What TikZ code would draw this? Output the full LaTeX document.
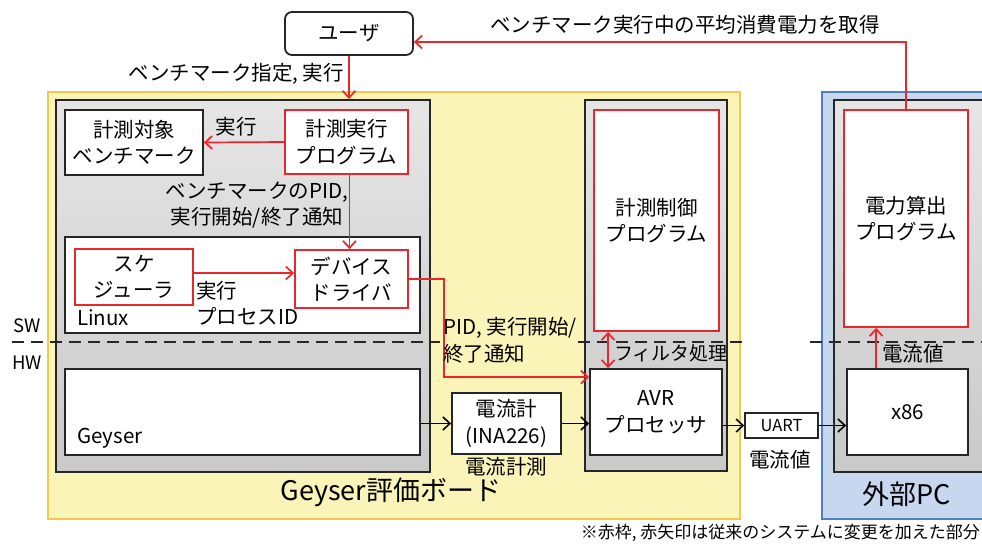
\documentclass[tikz,border=0pt]{standalone}
\usepackage{fontspec}
\setmainfont{Noto Sans CJK JP}
\usetikzlibrary{fit,arrows.meta,calc}
\definecolor{boardfill}{HTML}{FBF4B8}
\definecolor{boarddraw}{HTML}{F2C84E}
\definecolor{pcfill}{HTML}{C6D7EF}
\definecolor{pcdraw}{HTML}{4F80C1}
\definecolor{redline}{HTML}{E8262B}
\tikzset{
  every node/.style={font=\fontsize{20.5}{26.5}\selectfont},
  area/.style={line width=2pt, inner sep=0pt},
  chip/.style={draw=black!85, line width=2pt, top color=gray!20, bottom color=gray!42, inner sep=0pt},
  wbox/.style={draw=black!85, line width=1.8pt, fill=white, inner sep=0pt, align=center},
  rbox/.style={draw=redline, line width=1.8pt, fill=white, inner sep=0pt, align=center},
  barb/.tip={Straight Barb[length=7pt,width=13pt]},
  rarrow/.style={draw=redline, line width=1.7pt, -{barb}},
  rdouble/.style={draw=redline, line width=1.7pt, {barb}-{barb}},
  barrow/.style={draw=black, line width=1.6pt, -{barb}},
  swline/.style={draw=black!85, line width=1.8pt, dash pattern=on 12pt off 7pt},
  lbl/.style={inner sep=0pt},
}
\begin{document}
\begin{tikzpicture}[x=1pt,y=-1pt]
\clip (0,0) rectangle (982,547);
\fill[white] (0,0) rectangle (982,547);

% large areas
\node[area, draw=boarddraw, fill=boardfill, fit={(48,92) (740,519)}] (board) {};
\node[area, draw=pcdraw, fill=pcfill, fit={(822,92) (992,519)}] (pc) {};

% chips
\node[chip, fit={(56,100) (430,472)}] (chipL) {};
\node[chip, fit={(585,100) (727,471)}] (chipM) {};
\node[chip, fit={(834,100) (994,472)}] (chipR) {};

% user
\node[draw=black!85, line width=1.8pt, fill=white, rounded corners=7pt, inner sep=0pt,
      fit={(285,12) (413,55)}] (user) {};
\node[lbl] at (user.center) {ユーザ};

% inner boxes, left chip
\node[wbox, fit={(65,110) (203,175)}] (target) {};
\node[lbl, align=center] at (target.center) {計測対象\\ベンチマーク};
\node[rbox, fit={(285,110) (408,174)}] (exec) {};
\node[lbl, align=center] at (exec.center) {計測実行\\プログラム};

\node[wbox, fit={(65,237) (420,333)}] (linux) {};
\node[rbox, fit={(75,249) (193,305)}] (sched) {};
\node[lbl, align=center] at (sched.center) {スケ\\ジューラ};
\node[rbox, fit={(295,250) (408,308)}] (driver) {};
\node[lbl, align=center] at (driver.center) {デバイス\\ドライバ};
\node[lbl, anchor=west] at (77,318) {Linux};

\node[wbox, fit={(65,369) (420,455)}] (geyser) {};
\node[lbl, anchor=west] at (77,438) {Geyser};

% middle chip
\node[rbox, fit={(594,110) (719,331)}] (ctrl) {};
\node[lbl, align=center] at (ctrl.center) {計測制御\\プログラム};
\node[wbox, fit={(590,369) (722,455)}] (avr) {};
\node[lbl, align=center] at (avr.center) {AVR\\プロセッサ};

% current meter
\node[wbox, fit={(452,393) (561,454)}] (ina) {};
\node[lbl, align=center] at (ina.center) {電流計\\(INA226)};

% UART
\node[wbox, line width=1.5pt, fit={(745,413) (818,438)}] (uart) {};
\node[lbl, font=\fontsize{16.5}{20}\selectfont] at (uart.center) {UART};

% right chip
\node[rbox, fit={(844,110) (968,327)}] (pwr) {};
\node[lbl, align=center] at (pwr.center) {電力算出\\プログラム};
\node[wbox, fit={(847,369) (968,455)}] (x86) {};
\node[lbl] at (x86.center) {x86};

% SW / HW divider
\draw[swline] (12,342) -- (440,342);
\draw[swline] (578,342) -- (742,342);
\draw[swline] (810,342) -- (982,342);
\node[lbl, font=\fontsize{18.5}{22}\selectfont] at (27,326) {SW};
\node[lbl, font=\fontsize{18.5}{22}\selectfont] at (27,363) {HW};

% red connectors
\draw[rarrow] (pwr.north) |- ([yshift=-8.5pt]user.east);
\draw[rarrow] (user.south) -- (user.south |- chipL.north);
\draw[rarrow] (exec.west) -- (target.east);
\draw[rarrow] ([xshift=3pt]exec.south) -- ([xshift=3pt]exec.south |- driver.north);
\draw[rarrow] ([yshift=4pt]sched.east) -- ([yshift=4pt]sched.east -| driver.west);
\draw[rarrow] (driver.east) -- ++(35,0) |- ([yshift=-9pt]avr.north west);
\draw[rdouble] ([xshift=15pt]ctrl.south west) -- ([xshift=15pt]ctrl.south west |- avr.north);
\draw[rarrow] ([xshift=30pt]x86.north west) -- ([xshift=30pt]x86.north west |- pwr.south);

% black connectors
\draw[barrow] (geyser.east |- ina.west) -- (ina.west);
\draw[barrow] (ina.east) -- (ina.east -| avr.west);
\draw[barrow] (avr.east |- uart.west) -- (uart.west);
\draw[barrow] (uart.east) -- (uart.east -| x86.west);

% labels
\node[lbl] at (685,25) {ベンチマーク実行中の平均消費電力を取得};
\node[lbl, anchor=east] at (344,74) {ベンチマーク指定, 実行};
\node[lbl] at (236,127) {実行};
\node[lbl, align=center] at (257,205) {ベンチマークのPID,\\実行開始/終了通知};
\node[lbl, anchor=west, align=left] at (196,303) {実行\\プロセスID};
\node[lbl, anchor=west, align=left] at (443,340) {PID, 実行開始/\\終了通知};
\node[lbl, anchor=west, font=\fontsize{19}{24}\selectfont] at (614,353) {フィルタ処理};
\node[lbl] at (913,354) {電流値};
\node[lbl] at (506,467) {電流計測};
\node[lbl] at (780,460) {電流値};
\node[lbl, font=\fontsize{27}{31}\selectfont] at (391,492) {Geyser評価ボード};
\node[lbl, font=\fontsize{27}{31}\selectfont] at (907,494) {外部PC};
\node[lbl, anchor=east, font=\fontsize{17}{20}\selectfont] at (980,533) {※赤枠, 赤矢印は従来のシステムに変更を加えた部分};
\end{tikzpicture}
\end{document}
